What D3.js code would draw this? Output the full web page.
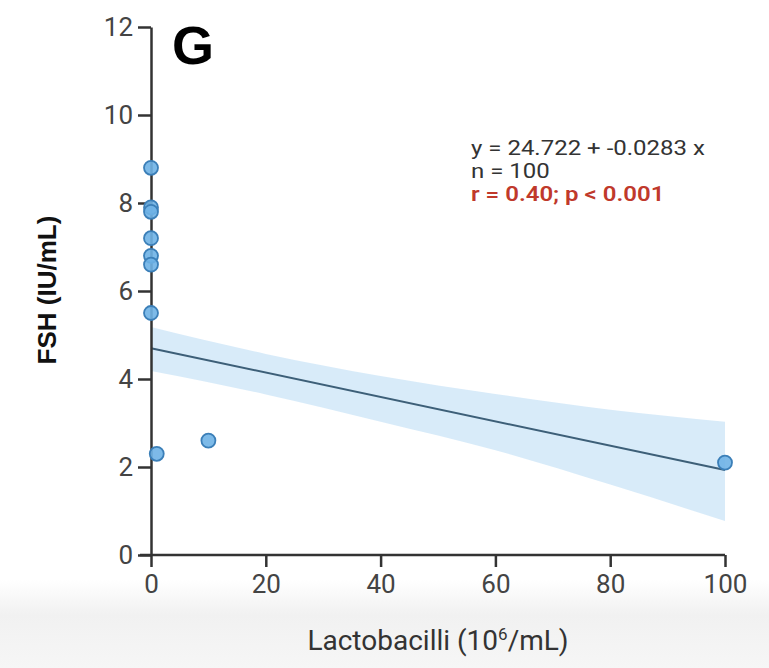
<!DOCTYPE html>
<html><head><meta charset="utf-8">
<script src="https://cdn.jsdelivr.net/npm/d3@7"></script>
<style>html,body{margin:0;padding:0;background:#fff;}svg{display:block;}</style>
</head><body>
<svg id="c" width="769" height="668"></svg>
<script>
// Data
const pointX = [0, 0, 0, 0, 0, 0, 0, 1, 10, 100];
const pointY = [8.8, 7.9, 7.8, 7.2, 6.8, 6.6, 5.5, 2.3, 2.6, 2.1];
const fitX = [0, 100];
const fitY = [4.70, 1.93];
const ciX = [0, 20, 40, 60, 80, 100];
const ciUpper = [5.18, 4.57, 4.07, 3.66, 3.30, 3.03];
const ciLower = [4.18, 3.65, 3.03, 2.38, 1.60, 0.77];
const xTicks = [0, 20, 40, 60, 80, 100];
const yTicks = [0, 2, 4, 6, 8, 10, 12];
const annotation = ["y = 24.722 + -0.0283 x", "n = 100", "r = 0.40; p < 0.001"];

const svg = d3.select("#c");
const defs = svg.append("defs");
const g0 = defs.append("linearGradient").attr("id","bg").attr("x1",0).attr("y1",0).attr("x2",0).attr("y2",1);
g0.append("stop").attr("offset","0%").attr("stop-color","#ffffff");
g0.append("stop").attr("offset","40%").attr("stop-color","#f1f1f1");
g0.append("stop").attr("offset","100%").attr("stop-color","#f6f6f6");
svg.append("rect").attr("x",0).attr("y",580).attr("width",769).attr("height",88).attr("fill","url(#bg)");

const x = d3.scaleLinear().domain([0,100]).range([151,725]);
const y = d3.scaleLinear().domain([0,12]).range([555,27]);

// CI band
const band = ciX.map((v,i)=>({x:v, lo:ciLower[i], hi:ciUpper[i]}));
svg.append("path").datum(band)
  .attr("fill","#d4e9f8").attr("fill-opacity",0.9)
  .attr("d", d3.area().x(d=>x(d.x)).y0(d=>y(d.lo)).y1(d=>y(d.hi)).curve(d3.curveMonotoneX));

// Fit line
svg.append("path").datum(fitX.map((v,i)=>({x:v,y:fitY[i]})))
  .attr("fill","none").attr("stroke","#3d5f78").attr("stroke-width",2)
  .attr("d", d3.line().x(d=>x(d.x)).y(d=>y(d.y)));

// Axes
const font = "Roboto, 'Liberation Sans', sans-serif";
const xAxis = svg.append("g").attr("transform","translate(0,555)")
  .call(d3.axisBottom(x).tickValues(xTicks).tickSize(12).tickPadding(8).tickSizeOuter(0));
const yAxis = svg.append("g").attr("transform","translate(151,0)")
  .call(d3.axisLeft(y).tickValues(yTicks).tickSize(13).tickPadding(5).tickSizeOuter(0));
[xAxis,yAxis].forEach(a=>{
  a.select(".domain").attr("stroke","#333").attr("stroke-width",2.5);
  a.selectAll(".tick line").attr("stroke","#333").attr("stroke-width",2.5);
  a.selectAll(".tick text").attr("fill","#444").style("font-family",font).style("font-size","26px");
});
// extend x axis line left under y tick 0
xAxis.select(".domain").attr("d","M140,0H725");

// Points
svg.append("g").selectAll("circle").data(pointX.map((v,i)=>({x:v,y:pointY[i]})))
  .join("circle")
  .attr("cx",d=>x(d.x)).attr("cy",d=>y(d.y)).attr("r",7)
  .attr("fill","#6fb3e6").attr("fill-opacity",0.9)
  .attr("stroke","#3b7fb8").attr("stroke-width",1.8);

// Panel letter
svg.append("text").attr("x",172).attr("y",64).text("G")
  .style("font-family","'Liberation Sans', Arial, sans-serif").style("font-weight","900")
  .style("font-size","54px").attr("fill","#000");

// Annotation (slightly condensed-looking: smaller font stretched horizontally)
const ann = svg.append("g").attr("transform","translate(471,0) scale(1.2,1)");
annotation.forEach((t,i)=>{
  ann.append("text").attr("x",0).attr("y",155+i*23).text(t)
    .style("font-family",font).style("font-size","20px")
    .attr("fill", i===2 ? "#c0392b" : "#333")
    .style("font-weight", i===2 ? "600" : "400");
});

// Axis titles
svg.append("text").attr("transform","translate(56,290) rotate(-90)")
  .attr("text-anchor","middle").text("FSH (IU/mL)")
  .style("font-family","'Liberation Sans', Arial, sans-serif").style("font-weight","bold")
  .style("font-size","26px").attr("fill","#111");

const xl = svg.append("text").attr("x",438).attr("y",650).attr("text-anchor","middle")
  .style("font-family",font).style("font-size","28px").attr("fill","#333");
xl.append("tspan").text("Lactobacilli (10");
xl.append("tspan").text("6").attr("dy","-10").style("font-size","17px");
xl.append("tspan").text("/mL)").attr("dy","10");
</script>
</body></html>
